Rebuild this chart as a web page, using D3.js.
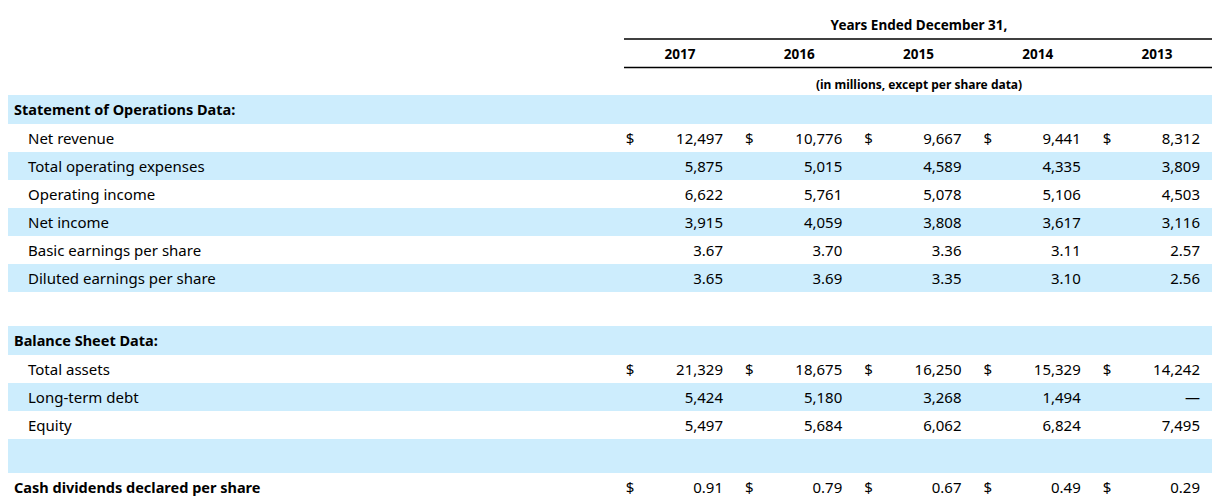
<!DOCTYPE html>
<html><head><meta charset="utf-8">
<script src="https://cdn.jsdelivr.net/npm/d3@7"></script>
<style>body{margin:0;background:#fff}text{font-family:"Noto Sans",sans-serif;fill:#000}</style>
</head><body><svg id="c" width="1219" height="503"></svg>
<script>
const years = ['2017','2016','2015','2014','2013'];
const rowLabels = ['Statement of Operations Data:','Net revenue','Total operating expenses','Operating income','Net income','Basic earnings per share','Diluted earnings per share','','Balance Sheet Data:','Total assets','Long-term debt','Equity','','Cash dividends declared per share'];
const rowKind = ['head','item','item','item','item','item','item','gap','head','item','item','item','blank','bold'];
const rowShade = [1,0,1,0,1,0,1,0,1,0,1,0,1,0];
const rowDollar = [0,1,0,0,0,0,0,0,0,1,0,0,0,1];
const rowValues = [
  null,
  ['12,497','10,776','9,667','9,441','8,312'],
  ['5,875','5,015','4,589','4,335','3,809'],
  ['6,622','5,761','5,078','5,106','4,503'],
  ['3,915','4,059','3,808','3,617','3,116'],
  ['3.67','3.70','3.36','3.11','2.57'],
  ['3.65','3.69','3.35','3.10','2.56'],
  null,
  null,
  ['21,329','18,675','16,250','15,329','14,242'],
  ['5,424','5,180','3,268','1,494','—'],
  ['5,497','5,684','6,062','6,824','7,495'],
  null,
  ['0.91','0.79','0.67','0.49','0.29']
];
const rowHeights = [29,28,28,28,28,28,28,34,29,28,28,28,34,28];

const svg = d3.select('#c');
// row tops
const tops = [];
rowHeights.reduce((a, h) => { tops.push(a); return a + h; }, 95);
const x = d3.scalePoint().domain(years).range([680, 1157]);
const colW = 119;

svg.append('text').attr('x', 919).attr('y', 30).attr('text-anchor', 'middle')
  .style('font-weight', 'bold').style('font-size', '13.5px').text('Years Ended December 31,');
svg.append('line').attr('x1', 624).attr('x2', 1212).attr('y1', 39).attr('y2', 39).attr('stroke', '#000').attr('stroke-width', 1.6);
svg.append('line').attr('x1', 624).attr('x2', 1212).attr('y1', 67.5).attr('y2', 67.5).attr('stroke', '#000').attr('stroke-width', 1.6);
svg.selectAll('text.yr').data(years).join('text').attr('class', 'yr')
  .attr('x', d => x(d)).attr('y', 59).attr('text-anchor', 'middle')
  .style('font-weight', 'bold').style('font-size', '13.5px').text(d => d);
svg.append('text').attr('x', 919).attr('y', 89).attr('text-anchor', 'middle')
  .style('font-weight', 'bold').style('font-size', '12px').text('(in millions, except per share data)');

const rows = svg.selectAll('g.row').data(rowLabels.map((l, i) => i)).join('g')
  .attr('class', 'row').attr('transform', i => `translate(0,${tops[i]})`);
rows.filter(i => rowShade[i]).append('rect').attr('x', 8).attr('width', 1204)
  .attr('height', i => rowHeights[i]).attr('fill', '#cdedfd');
rows.append('text').attr('x', i => rowKind[i] === 'item' ? 28 : 14)
  .attr('y', i => rowHeights[i] / 2 + 5.5)
  .style('font-weight', i => rowKind[i] === 'item' ? 'normal' : 'bold')
  .style('font-size', i => rowKind[i] === 'item' ? '15px' : '14.5px')
  .text(i => rowLabels[i]);
rows.each(function(i) {
  if (!rowValues[i]) return;
  const g = d3.select(this);
  const y = rowHeights[i] / 2 + 5.5;
  g.selectAll('text.v').data(rowValues[i]).join('text').attr('class', 'v')
    .attr('x', (d, j) => x(years[j]) + 43).attr('y', y).attr('text-anchor', 'end')
    .style('font-size', '15px').text(d => d);
  if (rowDollar[i]) {
    g.selectAll('text.d').data(years).join('text').attr('class', 'd')
      .attr('x', d => x(d) - 50).attr('y', y).attr('text-anchor', 'middle')
      .style('font-size', '15px').text('$');
  }
});
</script></body></html>
